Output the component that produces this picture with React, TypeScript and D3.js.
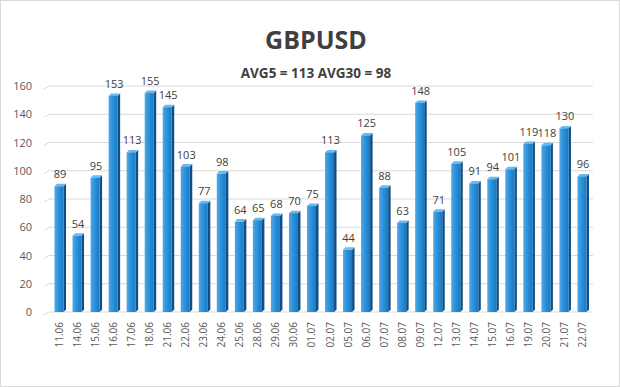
import React from "react";
import * as d3 from "d3";

const dates = [
  "11.06", "14.06", "15.06", "16.06", "17.06", "18.06", "21.06", "22.06", "23.06", "24.06",
  "25.06", "28.06", "29.06", "30.06", "01.07", "02.07", "05.07", "06.07", "07.07", "08.07",
  "09.07", "12.07", "13.07", "14.07", "15.07", "16.07", "19.07", "20.07", "21.07", "22.07",
];
const ranges = [
  89, 54, 95, 153, 113, 155, 145, 103, 77, 98,
  64, 65, 68, 70, 75, 113, 44, 125, 88, 63,
  148, 71, 105, 91, 94, 101, 119, 118, 130, 96,
];
const yTicks = [0, 20, 40, 60, 80, 100, 120, 140, 160];
const title = "GBPUSD";
const subtitle = "AVG5 = 113 AVG30 = 98";

const W = 620;
const H = 387;

const App = () => {
  const x = d3
    .scaleBand<string>()
    .domain(dates)
    .range([50, 591])
    .paddingInner(0.5)
    .paddingOuter(0.25);
  const y = d3.scaleLinear().domain([0, 160]).range([312, 86]);
  const bw = x.bandwidth();
  const depth = 2.5;
  const font = "'Open Sans', 'Liberation Sans', sans-serif";

  return (
    <svg width={W} height={H} style={{ position: "absolute", left: 0, top: 0 }}>
      <defs>
        <linearGradient id="front" x1="0%" y1="0%" x2="100%" y2="0%">
          <stop offset="0%" stopColor="#4fa8e6" />
          <stop offset="45%" stopColor="#2b92dc" />
          <stop offset="100%" stopColor="#1a78c2" />
        </linearGradient>
      </defs>
      <rect x={0.5} y={0.5} width={W - 1} height={H - 1} fill="#fff" stroke="#d9d9d9" />
      <text x={316} y={49} textAnchor="middle" fontFamily={font} fontWeight={700} fontSize={25} fill="#3f3f3f">
        {title}
      </text>
      <text x={316} y={78} textAnchor="middle" fontFamily={font} fontWeight={700} fontSize={13.5} fill="#3f3f3f">
        {subtitle}
      </text>
      {yTicks.map((t) => (
        <g key={t}>
          <path
            d={`M44,${y(t) + 3}L49,${y(t)}L593,${y(t)}`}
            fill="none"
            stroke="#d9d9d9"
            strokeWidth={1}
          />
          <text x={32} y={y(t) + 4} textAnchor="end" fontFamily={font} fontSize={11} fill="#595959">
            {t}
          </text>
        </g>
      ))}
      {dates.map((d, i) => {
        const v = ranges[i];
        const x0 = x(d) as number;
        const top = y(v);
        const base = y(0);
        return (
          <g key={d}>
            <polygon
              points={`${x0 + bw},${top} ${x0 + bw + depth},${top - depth} ${x0 + bw + depth},${base - depth} ${x0 + bw},${base}`}
              fill="#0f4f86"
            />
            <polygon
              points={`${x0},${top} ${x0 + depth},${top - depth} ${x0 + bw + depth},${top - depth} ${x0 + bw},${top}`}
              fill="#6ab8ec"
            />
            <rect x={x0} y={top} width={bw} height={base - top} fill="url(#front)" />
            <text
              x={x0 + bw / 2 + 1}
              y={top - 8}
              textAnchor="middle"
              fontFamily={font}
              fontSize={11}
              fill="#404040"
            >
              {v}
            </text>
            <text
              transform={`translate(${x0 + bw / 2 + 4},${322}) rotate(-90)`}
              textAnchor="end"
              fontFamily={font}
              fontSize={10}
              fill="#595959"
            >
              {d}
            </text>
          </g>
        );
      })}
    </svg>
  );
};

export default App;
